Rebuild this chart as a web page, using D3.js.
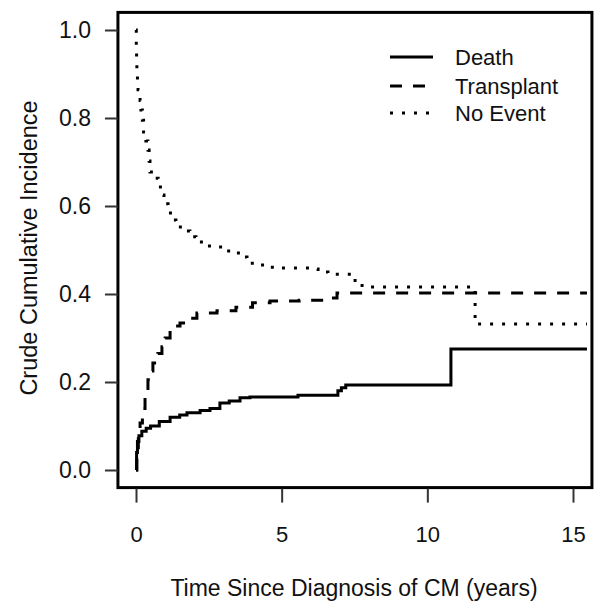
<!DOCTYPE html>
<html><head><meta charset="utf-8">
<script src="https://cdn.jsdelivr.net/npm/d3@7/dist/d3.min.js"></script>
<style>html,body{margin:0;padding:0;background:#fff;}svg{display:block;font-family:"Liberation Sans",Arial,sans-serif;}</style>
</head><body>
<script>
// ---- data ----
const deathTimes = [0, 0.02, 0.05, 0.1, 0.2, 0.35, 0.5, 0.8, 1.17, 1.5, 1.75, 2.2, 2.54, 2.88, 3.2, 3.57, 3.91, 5.56, 6.93, 7.05, 7.2, 10.81, 15.48];
const deathValues = [0, 0.04, 0.065, 0.078, 0.088, 0.095, 0.1, 0.11, 0.12, 0.125, 0.13, 0.135, 0.14, 0.152, 0.157, 0.164, 0.166, 0.170, 0.18, 0.187, 0.193, 0.275, 0.275];
const transplantTimes = [0, 0.03, 0.08, 0.14, 0.22, 0.31, 0.41, 0.5, 0.58, 0.75, 0.89, 1.0, 1.17, 1.35, 1.51, 1.8, 2.09, 2.78, 3.43, 4.0, 4.6, 5.6, 6.56, 6.9, 15.48];
const transplantValues = [0, 0.04, 0.075, 0.107, 0.14, 0.166, 0.205, 0.225, 0.243, 0.265, 0.28, 0.3, 0.318, 0.327, 0.334, 0.345, 0.357, 0.362, 0.37, 0.38, 0.384, 0.386, 0.391, 0.402, 0.402];
const noEventTimes = [0, 0.01, 0.02, 0.03, 0.05, 0.07, 0.14, 0.17, 0.22, 0.26, 0.34, 0.41, 0.45, 0.48, 0.62, 0.76, 0.89, 0.96, 1.1, 1.24, 1.37, 1.65, 1.85, 2.06, 2.37, 2.71, 2.99, 3.33, 3.57, 3.81, 4.15, 4.5, 4.84, 5.97, 6.25, 6.59, 7.52, 7.76, 11.64, 15.48];
const noEventValues = [1.0, 0.963, 0.936, 0.913, 0.886, 0.864, 0.84, 0.818, 0.795, 0.768, 0.748, 0.727, 0.702, 0.677, 0.663, 0.643, 0.625, 0.605, 0.584, 0.568, 0.552, 0.543, 0.53, 0.518, 0.509, 0.507, 0.498, 0.493, 0.484, 0.47, 0.466, 0.461, 0.459, 0.457, 0.45, 0.445, 0.427, 0.416, 0.332, 0.332];
const seriesNames = ["Death", "Transplant", "No Event"];
const xTicks = [0, 5, 10, 15];
const yTicks = [0.0, 0.2, 0.4, 0.6, 0.8, 1.0];
const xTitle = "Time Since Diagnosis of CM (years)";
const yTitle = "Crude Cumulative Incidence";

// ---- layout ----
const W = 604, H = 611;
const x = d3.scaleLinear().domain([0, 15]).range([136, 573]);
const y = d3.scaleLinear().domain([0, 1]).range([470, 30]);
const xMin = -0.62, xMax = 15.65, yMin = -0.04, yMax = 1.04;

const svg = d3.select("body").append("svg").attr("width", W).attr("height", H);

const styles = [
  {dash: null},
  {dash: "12,11"},
  {dash: "3,9"}
];
const series = [
  {t: deathTimes, v: deathValues},
  {t: transplantTimes, v: transplantValues},
  {t: noEventTimes, v: noEventValues}
];

const line = d3.line().x(d => x(d[0])).y(d => y(d[1])).curve(d3.curveStepAfter);
series.forEach((s, i) => {
  const pts = s.t.map((t, j) => [t, s.v[j]]);
  svg.append("path").attr("d", line(pts)).attr("fill", "none")
    .attr("stroke", "#000").attr("stroke-width", 3)
    .attr("stroke-dasharray", styles[i].dash);
});

// box
svg.append("rect").attr("x", x(xMin)).attr("y", y(yMax))
  .attr("width", x(xMax) - x(xMin)).attr("height", y(yMin) - y(yMax))
  .attr("fill", "none").attr("stroke", "#000").attr("stroke-width", 3);

// x axis
const xAxis = d3.axisBottom(x).tickValues(xTicks).tickFormat(d3.format("d")).tickSize(14).tickPadding(24);
const gx = svg.append("g").attr("transform", `translate(0,${y(yMin) + 1})`).call(xAxis);
gx.select(".domain").remove();
gx.selectAll(".tick line").attr("stroke", "#333").attr("stroke-width", 2);
gx.selectAll(".tick text").attr("font-size", 22).attr("fill", "#111").attr("font-family", "Liberation Sans, Arial, sans-serif");

// y axis
const yAxis = d3.axisLeft(y).tickValues(yTicks).tickFormat(d3.format(".1f")).tickSize(13).tickPadding(14);
const gy = svg.append("g").attr("transform", `translate(${x(xMin)},0)`).call(yAxis);
gy.select(".domain").remove();
gy.selectAll(".tick line").attr("stroke", "#333").attr("stroke-width", 2);
gy.selectAll(".tick text").attr("font-size", 23).attr("fill", "#111").attr("font-family", "Liberation Sans, Arial, sans-serif");

// titles
svg.append("text").attr("x", 354).attr("y", 596).attr("text-anchor", "middle")
  .attr("font-size", 23).attr("fill", "#111").text(xTitle);
svg.append("text").attr("transform", "translate(37,248) rotate(-90)").attr("text-anchor", "middle")
  .attr("font-size", 23.5).attr("fill", "#111").text(yTitle);

// legend
const legY = [57, 86, 113];
seriesNames.forEach((n, i) => {
  svg.append("line").attr("x1", 390).attr("x2", 433).attr("y1", legY[i]).attr("y2", legY[i])
    .attr("stroke", "#000").attr("stroke-width", 3).attr("stroke-dasharray", styles[i].dash);
  svg.append("text").attr("x", 455).attr("y", legY[i] + 8).attr("font-size", 22)
    .attr("fill", "#111").text(n);
});
</script>
</body></html>
